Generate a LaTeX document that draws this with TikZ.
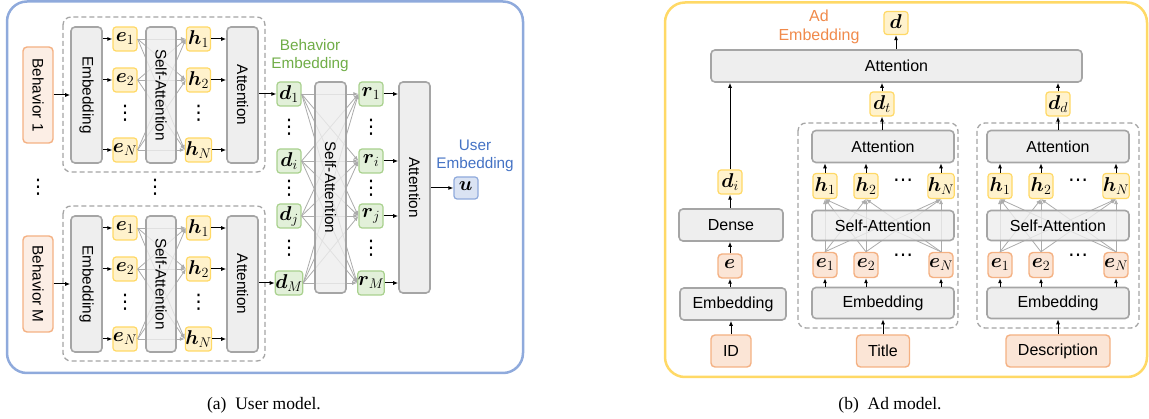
\RequirePackage{fix-cm}
\documentclass[tikz,border=0pt]{standalone}
\usepackage{amsmath}
\usepackage{fontspec}
\newfontfamily\arial{Liberation Sans}
\newfontfamily\capfont{Liberation Serif}
\newfontfamily\dejavu{DejaVu Sans}
\usetikzlibrary{arrows.meta}
\newcommand{\mv}[2]{{\fontsize{20}{22}\selectfont$\boldsymbol{#1}_{#2}$}}
\newcommand{\vdt}{{\dejavu\fontsize{20}{20}\selectfont ⋮}}
\newcommand{\hdt}{{\dejavu\fontsize{20}{20}\selectfont ⋯}}
\definecolor{gfill}{HTML}{EEEEEE}
\definecolor{gbord}{HTML}{A5A5A5}
\definecolor{yfill}{HTML}{FFF2CC}
\definecolor{ybord}{HTML}{FFD966}
\definecolor{ofill}{HTML}{FBE5D6}
\definecolor{obord}{HTML}{F4B183}
\definecolor{behfill}{HTML}{FCEEE5}
\definecolor{gnfill}{HTML}{E2F0D9}
\definecolor{gnbord}{HTML}{A9D18E}
\definecolor{bfill}{HTML}{DAE3F3}
\definecolor{bbord}{HTML}{8FAADC}
\definecolor{gntext}{HTML}{70AD47}
\definecolor{btext}{HTML}{4472C4}
\definecolor{otext}{HTML}{F08A4B}
\definecolor{lgray}{HTML}{ABABAB}
\definecolor{frameyellow}{HTML}{FFD966}
\begin{document}
\begin{tikzpicture}[x=1pt,y=-1pt,
  every node/.style={font=\arial\fontsize{15.3}{18}\selectfont, inner sep=0pt},
  box/.style={draw=gbord, fill=gfill, line width=1.6pt, rounded corners=4pt},
  sabox/.style={box, fill opacity=0.8, text opacity=1},
  ybox/.style={draw=ybord, fill=yfill, line width=1.2pt, rounded corners=3pt, minimum width=24pt, minimum height=24pt},
  obox/.style={draw=obord, fill=ofill, line width=1.4pt, rounded corners=4pt, minimum width=24pt, minimum height=24pt},
  gnbox/.style={draw=gnbord, fill=gnfill, line width=1.2pt, rounded corners=3pt, minimum width=24pt, minimum height=24pt},
  bbox/.style={draw=bbord, fill=bfill, line width=1.2pt, rounded corners=3pt, minimum width=24pt, minimum height=22pt},
  dashbox/.style={draw=gbord, line width=1.3pt, dash pattern=on 5pt off 3pt, rounded corners=8pt},
  arr/.style={-{Latex[length=5pt,width=4pt]}, line width=1pt, black},
  garr/.style={-{Latex[length=5pt,width=4pt]}, line width=0.8pt, lgray},
  rfont/.style={font=\arial\fontsize{16}{19}\selectfont}
]
\useasboundingbox (0,0) rectangle (1149,419);
% ================= left panel =================
\draw[bbord, line width=2.5pt, rounded corners=20pt] (7,1.5) rectangle (523,373);
\foreach \g/\o/\bl in {1/0/1, 2/189/M}{
  \draw[dashbox] (63,{17+\o}) rectangle (265,{172+\o});
  \node[obox, fill=behfill, minimum width=30pt, minimum height=96pt] (beh\g) at (38,{95+\o}) {\rotatebox{-90}{Behavior \bl}};
  \node[box, minimum width=31pt, minimum height=136pt] (emb\g) at (86.5,{95+\o}) {\rotatebox{-90}{Embedding}};
  \node[ybox] (e1-\g) at (125,{39+\o}) {\mv{e}{1}};
  \node[ybox] (e2-\g) at (125,{80+\o}) {\mv{e}{2}};
  \node[ybox] (eN-\g) at (125,{150+\o}) {\mv{e}{N}};
  \node (ev\g) at (125,{113+\o}) {\vdt};
  \node[ybox] (h1-\g) at (198.5,{39+\o}) {\mv{h}{1}};
  \node[ybox] (h2-\g) at (198.5,{80+\o}) {\mv{h}{2}};
  \node[ybox] (hN-\g) at (198.5,{150+\o}) {\mv{h}{N}};
  \node (hv\g) at (198.5,{113+\o}) {\vdt};
  \node[box, minimum width=31pt, minimum height=136pt] (att\g) at (242.5,{95+\o}) {\rotatebox{-90}{Attention}};
  \foreach \a in {1,2,N}{
    \foreach \b in {1,2,N}{
      \draw[garr] (e\a-\g.east) -- (h\b-\g.west);
    }
    \draw[arr] (emb\g.east |- e\a-\g) -- (e\a-\g);
    \draw[arr] (h\a-\g) -- (att\g.west |- h\a-\g);
  }
  \node[sabox, minimum width=30pt, minimum height=136pt] (sa\g) at (161,{95+\o}) {\rotatebox{-90}{Self-Attention}};
  \draw[arr] (beh\g) -- (emb\g.west |- beh\g);
}
\node (vd1) at (38,187) {\vdt};
\node (vd2) at (155,187) {\vdt};
% behavior embeddings
\node[gnbox] (d1) at (289,94) {\mv{d}{1}};
\node[gnbox] (di) at (289,161) {\mv{d}{i}};
\node[gnbox] (dj) at (289,216) {\mv{d}{j}};
\node[gnbox] (dM) at (289,283) {\mv{d}{M}};
\node[gnbox] (r1) at (371,94) {\mv{r}{1}};
\node[gnbox] (ri) at (371,161) {\mv{r}{i}};
\node[gnbox] (rj) at (371,216) {\mv{r}{j}};
\node[gnbox] (rM) at (371,283) {\mv{r}{M}};
\foreach \y [count=\k] in {127,188,248}{
  \node (dv\k) at (289,\y) {\vdt};
  \node (rv\k) at (371,\y) {\vdt};
}
\foreach \a in {1,i,j,M}{
  \foreach \b in {1,i,j,M}{
    \draw[garr] (d\a.east) -- (r\b.west);
  }
}
\node[sabox, minimum width=31pt, minimum height=211pt] (bsa) at (330.5,187.5) {\rotatebox{-90}{Self-Attention}};
\node[box, minimum width=31pt, minimum height=211pt] (batt) at (414.5,187.5) {\rotatebox{-90}{Attention}};
\draw[arr] (att1.east |- d1) -- (d1);
\draw[arr] (att2.east |- dM) -- (dM);
\foreach \a in {1,i,j,M}{
  \draw[arr] (r\a) -- (batt.west |- r\a);
}
\node[bbox] (u) at (466,188) {\mv{u}{}};
\draw[arr] (batt.east |- u) -- (u);
\node[align=center, text=gntext] (belab) at (310,56) {Behavior\\Embedding};
\node[align=center, text=btext] (uelab) at (475,156) {User\\Embedding};
% ================= right panel =================
\draw[frameyellow, line width=2.5pt, rounded corners=20pt] (665,2.5) rectangle (1147,377);
\node[rfont, align=center, text=otext] (adlab) at (819,26.5) {Ad\\Embedding};
\node[ybox, minimum height=23pt] (dout) at (896,23) {\mv{d}{}};
\node[box, rfont, minimum width=371pt, minimum height=32pt] (adatt) at (896.5,66) {Attention};
\node[ybox] (dt) at (882,104) {\mv{d}{t}};
\node[ybox] (dd) at (1058,104) {\mv{d}{d}};
\node[ybox] (dI) at (730,182) {\mv{d}{i}};
\node[box, rfont, minimum width=104pt, minimum height=32pt] (dense) at (731,225) {Dense};
\node[obox] (eid) at (730,266) {\mv{e}{}};
\node[box, rfont, minimum width=106pt, minimum height=32pt] (embid) at (733,304) {Embedding};
\node[obox, rfont, minimum width=40pt, minimum height=32pt] (id) at (731,351) {ID};
\draw[arr] (id) -- (id |- embid.south);
\draw[arr] (embid.north -| eid) -- (eid);
\draw[arr] (eid) -- (eid |- dense.south);
\draw[arr] (dense.north -| dI) -- (dI);
\draw[arr] (dI) -- (dI |- adatt.south);
\draw[arr] (dt) -- (dt |- adatt.south);
\draw[arr] (dd) -- (dd |- adatt.south);
\draw[arr] (adatt.north -| dout) -- (dout);
\foreach \g/\c/\txt/\dl/\dr/\w in {T/883/Title/798/958/53, D/1058/Description/977/1139/104}{
  \draw[dashbox] (\dl,123) rectangle (\dr,328);
  \node[box, rfont, minimum width=142pt, minimum height=32pt] (gatt\g) at (\c,146.5) {Attention};
  \node[ybox, minimum height=25pt] (h1\g) at ({\c-58},186) {\mv{h}{1}};
  \node[ybox, minimum height=25pt] (h2\g) at ({\c-17},186) {\mv{h}{2}};
  \node[ybox, minimum height=25pt] (hN\g) at ({\c+58},186) {\mv{h}{N}};
  \node (hd\g) at ({\c+20},183) {\hdt};
  \node[obox, minimum height=25pt] (e1\g) at ({\c-58},265) {\mv{e}{1}};
  \node[obox, minimum height=25pt] (e2\g) at ({\c-17},265) {\mv{e}{2}};
  \node[obox, minimum height=25pt] (eN\g) at ({\c+58},265) {\mv{e}{N}};
  \node (ed\g) at ({\c+20},258) {\hdt};
  \node[box, rfont, minimum width=142pt, minimum height=31pt] (gemb\g) at (\c,303) {Embedding};
  \node[obox, rfont, minimum width=\w pt, minimum height=32pt] (in\g) at (\c,351) {\txt};
  \foreach \a in {1,2,N}{
    \foreach \b in {1,2,N}{
      \draw[garr] (e\a\g.north) -- (h\b\g.south);
    }
    \draw[arr] (gemb\g.north -| e\a\g) -- (e\a\g);
    \draw[arr] (h\a\g) -- (h\a\g |- gatt\g.south);
  }
  \node[sabox, rfont, minimum width=142pt, minimum height=30pt] (gsa\g) at (\c,225.5) {Self-Attention};
  \draw[arr] (in\g) -- (gemb\g);
}
\draw[arr] (gattT.north -| dt) -- (dt);
\draw[arr] (gattD.north -| dd) -- (dd);
% captions
\node[font=\capfont\fontsize{17.5}{20}\selectfont] (capa) at (264,405) {(a)\enspace User model.};
\node[font=\capfont\fontsize{17.5}{20}\selectfont] (capb) at (890,405) {(b)\enspace Ad model.};
\end{tikzpicture}
\end{document}
